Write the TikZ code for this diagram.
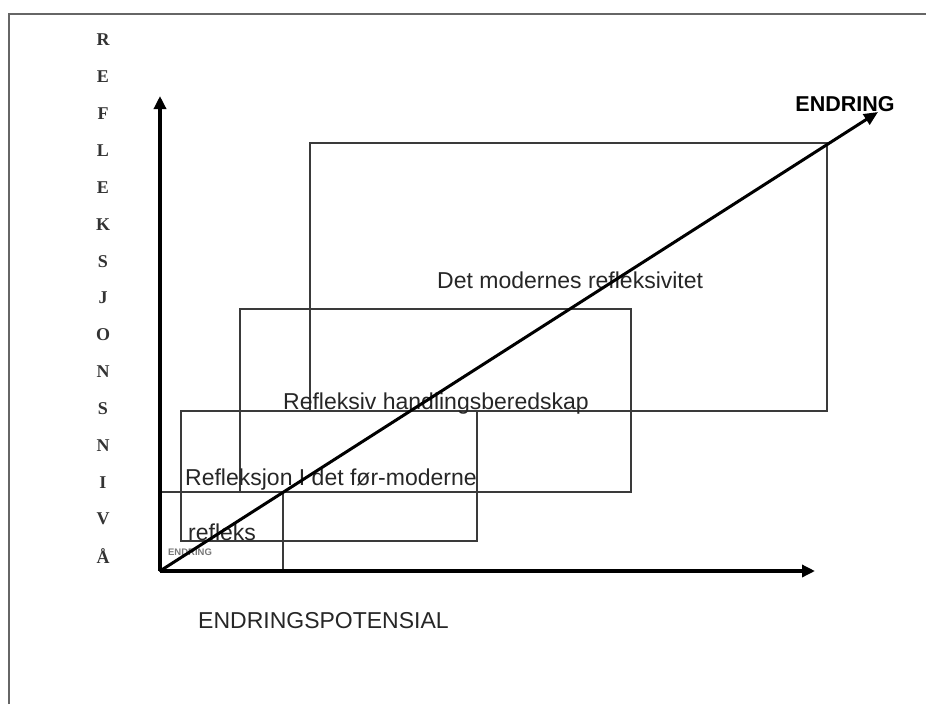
\documentclass[tikz,border=0pt]{standalone}
\usepackage{fontspec}
\setmainfont{Liberation Sans}
\newfontfamily\serifletters{Liberation Serif}
\usetikzlibrary{arrows.meta}
\definecolor{framegray}{HTML}{666666}
\definecolor{boxgray}{HTML}{3A3A3A}
\definecolor{tinygray}{HTML}{777777}
\tikzset{
  framestyle/.style={draw=framegray, line width=2pt},
  boxstyle/.style={draw=boxgray, line width=1.8pt},
  axisstyle/.style={draw=black, line width=3.5pt, -{Triangle[length=13pt,width=12pt]}},
  diagstyle/.style={draw=black, line width=3pt, -{Triangle[length=14pt,width=12pt]}},
  boxlabel/.style={anchor=base west, inner sep=0pt, text=black!85, font=\fontsize{23}{23}\selectfont},
  vletter/.style={anchor=center, inner sep=0pt, text=black!80, font=\serifletters\bfseries\fontsize{18}{18}\selectfont},
}
\begin{document}
\begin{tikzpicture}[x=1pt, y=-1pt]
\useasboundingbox (0,0) rectangle (926,704);
% outer frame (left and top edges)
\coordinate (fbl) at (9,704);
\coordinate (ftl) at (9,14);
\coordinate (ftr) at (926,14);
\draw[framestyle] (fbl) -- (ftl) -- (ftr);
% boxes
\coordinate (b1a) at (310,143); \coordinate (b1b) at (827,411);
\coordinate (b2a) at (240,309); \coordinate (b2b) at (631,492);
\coordinate (b3a) at (181,411); \coordinate (b3b) at (477,541);
\coordinate (b4a) at (160,492); \coordinate (b4b) at (283,571);
\draw[boxstyle] (b1a) rectangle (b1b);
\draw[boxstyle] (b2a) rectangle (b2b);
\draw[boxstyle] (b3a) rectangle (b3b);
\draw[boxstyle] (b4a) rectangle (b4b);
% labels
\node[boxlabel] (t1) at (437,288) {Det modernes refleksivitet};
\node[boxlabel] (t2) at (283,409) {Refleksiv handlingsberedskap};
\node[boxlabel] (t3) at (185,485) {Refleksjon I det før-moderne};
\node[boxlabel] (t4) at (188,540) {refleks};
\node[anchor=center, inner sep=0pt, text=tinygray, font=\bfseries\fontsize{9.5}{9.5}\selectfont] (t5) at (190,552) {ENDRING};
\node[boxlabel] (xl) at (198,628) {ENDRINGSPOTENSIAL};
\node[anchor=center, inner sep=0pt, text=black, font=\bfseries\fontsize{21.5}{21.5}\selectfont] (dl) at (845,104) {ENDRING};
% axes
\coordinate (o) at (160,571);
\coordinate (ytip) at (160,96);
\coordinate (xtip) at (815,571);
\coordinate (dtip) at (878,112);
\draw[diagstyle] (o) -- (dtip);
\draw[axisstyle] (o) -- (ytip);
\draw[axisstyle] (o) -- (xtip);
% vertical label
\foreach \ch [count=\i from 0] in {R,E,F,L,E,K,S,J,O,N,S,N,I,V,Å} {
  \node[vletter] (v\i) at (103, 40+\i*36.86) {\ch};
}
\end{tikzpicture}
\end{document}
